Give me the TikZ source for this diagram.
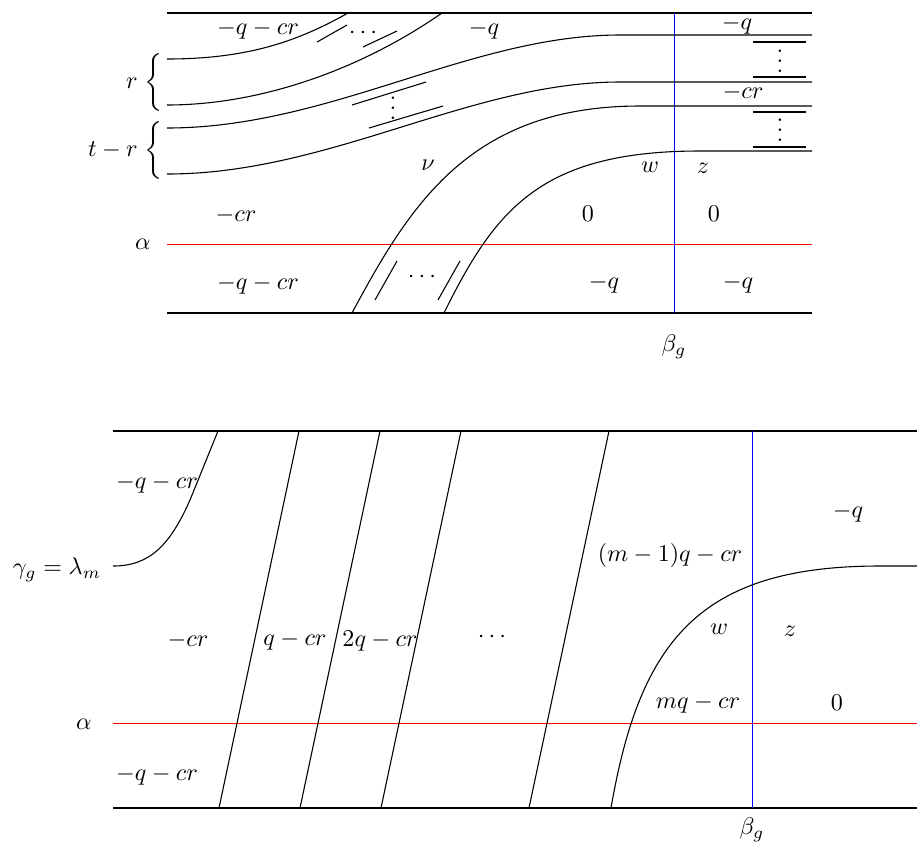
\documentclass[tikz,border=0pt]{standalone}
\usepackage{amsmath}
\usepackage{xcolor}
\usetikzlibrary{positioning}

\begin{document}
\begin{tikzpicture}[
		x=0.415pt, y=-0.415pt,
		bar/.style={thick},
		strand/.style={line width=0.45pt},
		tick/.style={line width=0.45pt},
		alphaline/.style={draw=red},
		betaline/.style={draw=blue},
		lab/.style={inner sep=1pt}
	]
		\useasboundingbox (0,0) rectangle (917,844);

		% upper picture
		\draw[bar] (167,13) -- (812,13);
		\draw[bar] (167,313) -- (812,313);
		\draw[alphaline] (167,244) -- (812,244);
		\draw[betaline] (674,13) -- (674,313);
		\draw[strand] (167,59) .. controls (250,59) and (300,40) .. (348,13);
		\draw[strand] (167,105) .. controls (260,105) and (360,70) .. (442,13);
		\draw[strand] (167,128) .. controls (330,128) and (470,35) .. (620,35) -- (812,35);
		\draw[strand] (167,174) .. controls (330,174) and (470,82) .. (620,82) -- (812,82);
		\draw[strand] (352,313) .. controls (410,205) and (470,106) .. (640,106) -- (812,106);
		\draw[strand] (444,313) .. controls (495,210) and (540,151) .. (700,151) -- (812,151);
		\draw[tick] (317,42) -- (347,25);
		\draw[tick] (363,47) -- (397,31);
		\draw[tick] (352,105) -- (426,82);
		\draw[tick] (369,128) -- (443,106);
		\draw[tick] (375,300) -- (397,261);
		\draw[tick] (438,300) -- (460,261);
		\draw[tick] (753,42) -- (806,42);
		\draw[tick] (753,77) -- (806,77);
		\draw[tick] (753,112) -- (806,112);
		\draw[tick] (753,147) -- (806,147);
		\node[lab] (dotsA) at (365,33) {$\cdots$};
		\node[lab, anchor=base] (vdotsA) at (393,119) {$\vdots$};
		\node[lab, anchor=base] (vdotsB) at (780,72) {$\vdots$};
		\node[lab, anchor=base] (vdotsC) at (780,141) {$\vdots$};
		\node[lab] (dotsB) at (424,277) {$\cdots$};

		\node[inner sep=0pt, anchor=east] (braceR) at (163,82) {$r\;\biggl\{$};
		\node[inner sep=0pt, anchor=east] (braceT) at (163,150) {$t-r\;\biggl\{$};
		\node[lab] (uTopL) at (258,30) {$-q-cr$};
		\node[lab] (uTopM) at (484,30) {$-q$};
		\node[lab] (uTopR) at (737,25) {$-q$};
		\node[lab] (uCr) at (743,92) {$-cr$};
		\node[lab] (uNu) at (428,165) {$\nu$};
		\node[lab] (uW) at (650,167) {$w$};
		\node[lab] (uZ) at (703,168) {$z$};
		\node[lab] (uMidL) at (236,215) {$-cr$};
		\node[lab] (uZeroA) at (588,214) {$0$};
		\node[lab] (uZeroB) at (714,214) {$0$};
		\node[lab] (uBotL) at (258,285) {$-q-cr$};
		\node[lab] (uBotM) at (604,284) {$-q$};
		\node[lab] (uBotR) at (738,284) {$-q$};
		\node[lab] (uAlpha) at (143,244) {$\alpha$};
		\coordinate (uFoot) at (674,313);
		\node[lab, below=8pt of uFoot] (uBeta) {$\beta_g$};

		% lower picture
		\draw[bar] (113,431) -- (917,431);
		\draw[bar] (113,808) -- (917,808);
		\draw[alphaline] (113,723) -- (917,723);
		\draw[betaline] (752,431) -- (752,808);
		\draw[strand] (113,566) .. controls (150,566) and (170,545) .. (190,500) -- (218,431);
		\draw[strand] (299,431) -- (219,808);
		\draw[strand] (380,431) -- (300,808);
		\draw[strand] (461,431) -- (381,808);
		\draw[strand] (609,431) -- (529,808);
		\draw[strand] (611,808) .. controls (640,640) and (700,566) .. (880,566) -- (917,566);

		\node[lab] (lTopL) at (157,484) {$-q-cr$};
		\node[lab] (lGamma) at (57,570) {$\gamma_g=\lambda_m$};
		\node[lab] (lCr) at (188,640) {$-cr$};
		\node[lab] (lOne) at (295,641) {$q-cr$};
		\node[lab] (lTwo) at (380,641) {$2q-cr$};
		\node[lab] (lDots) at (494,637) {$\cdots$};
		\node[lab] (lM1) at (670,555) {$(m-1)q-cr$};
		\node[lab] (lQ) at (848,513) {$-q$};
		\node[lab] (lW) at (719,629) {$w$};
		\node[lab] (lZ) at (790,631) {$z$};
		\node[lab] (lMq) at (698,704) {$mq-cr$};
		\node[lab] (lZero) at (837,703) {$0$};
		\node[lab] (lBotL) at (157,776) {$-q-cr$};
		\node[lab] (lAlpha) at (84,724) {$\alpha$};
		\coordinate (lFoot) at (752,808);
		\node[lab, below=3pt of lFoot] (lBeta) {$\beta_g$};
	\end{tikzpicture}
\end{document}
